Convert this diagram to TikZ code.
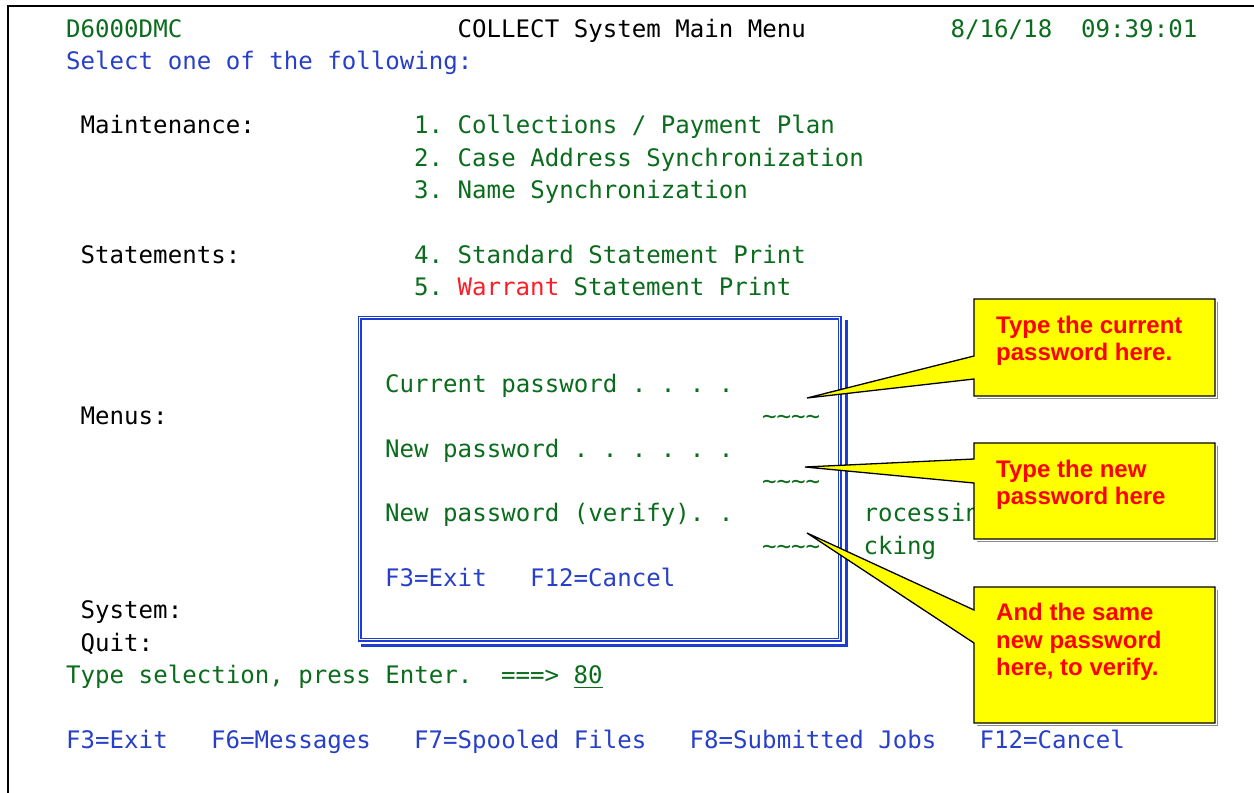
\documentclass[tikz,border=0pt]{standalone}
\usepackage{fontspec}
\newfontfamily\monofont{DejaVu Sans Mono}
\newfontfamily\callfont{Liberation Sans}
\definecolor{tgreen}{RGB}{10,108,28}
\definecolor{tblue}{RGB}{40,64,200}
\definecolor{tred}{RGB}{250,30,40}
\definecolor{dlgblue}{RGB}{30,60,205}
\definecolor{cyellow}{RGB}{255,255,0}
\definecolor{cred}{RGB}{255,0,0}
\tikzset{
  term/.style={anchor=base west, inner sep=0pt, font=\monofont\fontsize{24.1}{24}\selectfont\frenchspacing},
  grn/.style={term, text=tgreen},
  blu/.style={term, text=tblue},
  blk/.style={term, text=black},
  rd/.style={term, text=tred},
  calltext/.style={anchor=base west, inner sep=0pt, text=cred, font=\callfont\bfseries\fontsize{24}{27.5}\selectfont\frenchspacing},
  callshape/.style={fill=cyellow, draw=black, line width=1.3pt, line join=miter},
  callshadow/.style={draw=black!45, line width=1.3pt},
}
\newcommand{\cx}[1]{\fpeval{66+14.5*(#1)}}
\newcommand{\ry}[1]{\fpeval{37+32.33*((#1)-1)}}
\begin{document}
\begin{tikzpicture}[x=1pt,y=-1pt]
\useasboundingbox (0,0) rectangle (1254,793);
\fill[white] (0,0) rectangle (1254,793);
% frame
\draw[line width=1.4pt] (8,793) -- (8,6) -- (1254,6);

% header
\node[grn] (hid) at (\cx{0},\ry{1}) {D6000DMC};
\node[blk] (htitle) at (\cx{27},\ry{1}) {COLLECT System Main Menu};
\node[grn] (hdate) at (\cx{61},\ry{1}) {8/16/18};
\node[grn] (htime) at (\cx{70},\ry{1}) {09:39:01};
\node[blu] (hsel) at (\cx{0},\ry{2}) {Select one of the following:};

% menu
\node[blk] (lmaint) at (\cx{1},\ry{4}) {Maintenance:};
\node[grn] (m1) at (\cx{24},\ry{4}) {1. Collections / Payment Plan};
\node[grn] (m2) at (\cx{24},\ry{5}) {2. Case Address Synchronization};
\node[grn] (m3) at (\cx{24},\ry{6}) {3. Name Synchronization};
\node[blk] (lstat) at (\cx{1},\ry{8}) {Statements:};
\node[grn] (m4) at (\cx{24},\ry{8}) {4. Standard Statement Print};
\node[grn] (m5a) at (\cx{24},\ry{9}) {5.};
\node[rd] (m5b) at (\cx{27},\ry{9}) {Warrant};
\node[grn] (m5c) at (\cx{35},\ry{9}) {Statement Print};
\node[blk] (lmenus) at (\cx{1},\ry{13}) {Menus:};
\node[grn] (proc) at (\cx{55},\ry{16}) {rocessing};
\node[grn] (ckng) at (\cx{55},\ry{17}) {cking};
\node[blk] (lsys) at (\cx{1},\ry{19}) {System:};
\node[blk] (lquit) at (\cx{1},\ry{20}) {Quit:};
\node[grn] (tsel) at (\cx{0},\ry{21}) {Type selection, press Enter.};
\node[grn] (arrow) at (\cx{30},\ry{21}) {===>};
\node[grn] (sel) at (\cx{35},\ry{21}) {80};
\draw[tgreen, line width=1.5pt] ([yshift=-4pt]sel.base west) -- ([yshift=-4pt]sel.base east);

% function keys
\node[blu] (f3) at (\cx{0},\ry{23}) {F3=Exit};
\node[blu] (f6) at (\cx{10},\ry{23}) {F6=Messages};
\node[blu] (f7) at (\cx{24},\ry{23}) {F7=Spooled Files};
\node[blu] (f8) at (\cx{43},\ry{23}) {F8=Submitted Jobs};
\node[blu] (f12) at (\cx{63},\ry{23}) {F12=Cancel};

% dialog window
\draw[dlgblue, line width=3pt] (846,320) -- (846,645.5) -- (361,645.5);
\fill[white] (358,316) rectangle (841,640);
\draw[dlgblue, double=white, double distance=1.6pt, line width=1.2pt] (359.5,317.5) rectangle (839.5,639.5);
\node[grn] (dcur) at (\cx{22},\ry{12}) {Current password . . . .};
\node[grn] (dt1) at (\cx{48},\ry{13}) {\char`\~\char`\~\char`\~\char`\~};
\node[grn] (dnew) at (\cx{22},\ry{14}) {New password . . . . . .};
\node[grn] (dt2) at (\cx{48},\ry{15}) {\char`\~\char`\~\char`\~\char`\~};
\node[grn] (dver) at (\cx{22},\ry{16}) {New password (verify). .};
\node[grn] (dt3) at (\cx{48},\ry{17}) {\char`\~\char`\~\char`\~\char`\~};
\node[blu] (df3) at (\cx{22},\ry{18}) {F3=Exit};
\node[blu] (df12) at (\cx{32},\ry{18}) {F12=Cancel};

% callout 1
\coordinate (tip1) at (807,398);
\draw[callshadow] (976.5,398.5) -- (1217.5,398.5) -- (1217.5,301.5);
\draw[callshape] (974,299) -- (1215,299) -- (1215,396) -- (974,396) -- (974,379) -- (tip1) -- (974,356) -- cycle;
\node[calltext] (c1a) at (996,333) {Type the current};
\node[calltext] (c1b) at (996,360.5) {password here.};

% callout 2
\coordinate (tip2) at (805,467);
\draw[callshadow] (976.5,541.5) -- (1217.5,541.5) -- (1217.5,445.5);
\draw[callshape] (974,443) -- (1215,443) -- (1215,539) -- (974,539) -- (974,483) -- (tip2) -- (974,459) -- cycle;
\node[calltext] (c2a) at (996,477) {Type the new};
\node[calltext] (c2b) at (996,504.5) {password here};

% callout 3
\coordinate (tip3) at (807,533);
\draw[callshadow] (976.5,725.5) -- (1217.5,725.5) -- (1217.5,589.5);
\draw[callshape] (974,587) -- (1215,587) -- (1215,723) -- (974,723) -- (974,643) -- (tip3) -- (974,610) -- cycle;
\node[calltext] (c3a) at (996,620.5) {And the same};
\node[calltext] (c3b) at (996,648) {new password};
\node[calltext] (c3c) at (996,675.5) {here, to verify.};
\end{tikzpicture}
\end{document}
